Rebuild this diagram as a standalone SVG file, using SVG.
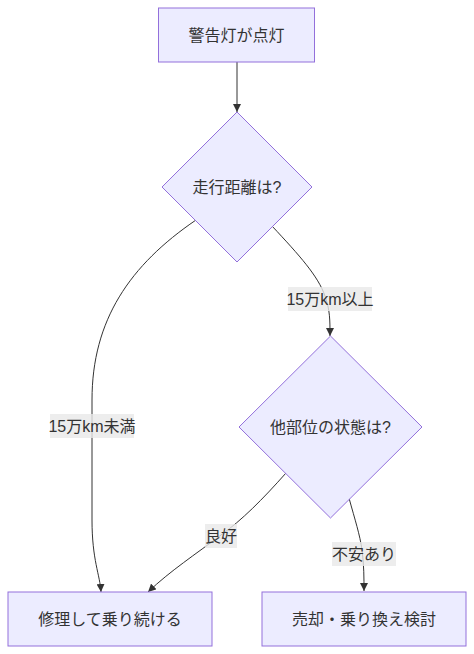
<svg xmlns="http://www.w3.org/2000/svg" width="474" height="654" viewBox="0 0 474 654">
<defs>
<style>
.node{fill:#ECECFF;stroke:#9370DB;stroke-width:1}
.t{font-family:"Liberation Sans","Noto Sans CJK JP",sans-serif;font-size:16px;fill:#333;text-anchor:middle;dominant-baseline:central}
.e{fill:none;stroke:#333;stroke-width:1}
.lb{fill:#E8E8E8;fill-opacity:0.8}
</style>
<marker id="arr" viewBox="0 0 10 10" refX="10" refY="5" markerWidth="8" markerHeight="8" markerUnits="userSpaceOnUse" orient="auto">
<path d="M0,0 L10,5 L0,10 z" fill="#333"/>
</marker>
</defs>
<rect width="474" height="654" fill="#fff"/>
<g id="edges">
<path class="e" d="M237,62 L237,112" marker-end="url(#arr)"/>
<path class="e" d="M196,220 C130,265 92,320 92,400 L92,520 C92,560 100,575 101,592" marker-end="url(#arr)"/>
<path class="e" d="M272,226 C300,256 318,276 325,296 C330,310 330,320 330,336" marker-end="url(#arr)"/>
<path class="e" d="M286,473 C262,500 242,520 221,535 C196,554 170,571 148,592" marker-end="url(#arr)"/>
<path class="e" d="M349,498 C355,520 360,535 362,550 C364,565 364,578 364,591" marker-end="url(#arr)"/>
</g>
<g id="edge-labels">
<rect class="lb" x="288" y="287" width="84" height="24"/>
<text class="t" x="330" y="299">15万km以上</text>
<rect class="lb" x="50" y="414" width="84" height="24"/>
<text class="t" x="92" y="426">15万km未満</text>
<rect class="lb" x="205" y="524" width="32" height="24"/>
<text class="t" x="221" y="536">良好</text>
<rect class="lb" x="332" y="542" width="64" height="24"/>
<text class="t" x="364" y="554">不安あり</text>
</g>
<g id="A">
<rect class="node" x="158.5" y="8" width="156" height="54"/>
<text class="t" x="236.5" y="35">警告灯が点灯</text>
</g>
<g id="B">
<polygon class="node" points="237,112 312,187 237,262 162,187"/>
<text class="t" x="237" y="187">走行距離は?</text>
</g>
<g id="C">
<polygon class="node" points="330.5,336 422,427 330.5,518 239,427"/>
<text class="t" x="330.5" y="427">他部位の状態は?</text>
</g>
<g id="D">
<rect class="node" x="8" y="592" width="204" height="54"/>
<text class="t" x="110" y="619">修理して乗り続ける</text>
</g>
<g id="E">
<rect class="node" x="262" y="592" width="204" height="54"/>
<text class="t" x="364" y="619">売却・乗り換え検討</text>
</g>
</svg>
